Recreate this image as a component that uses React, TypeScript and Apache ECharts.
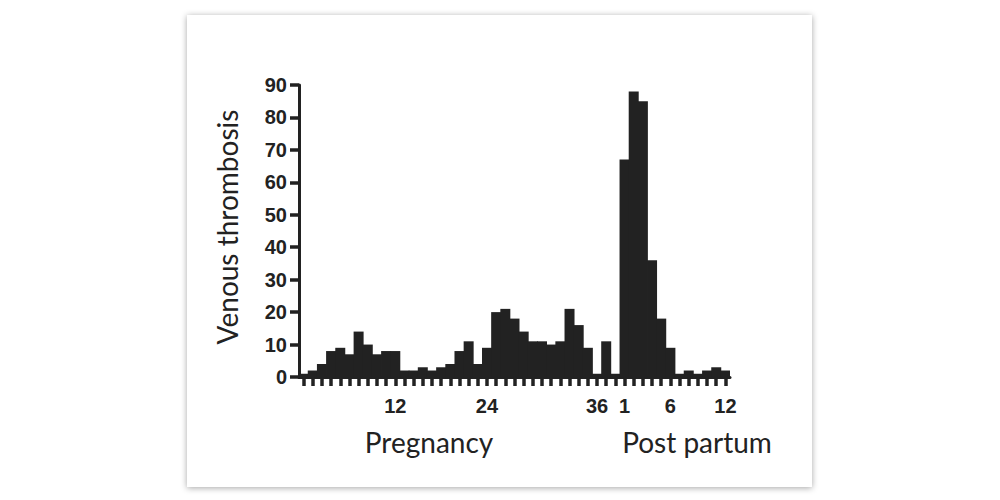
import React, { useEffect, useRef } from "react";
import * as echarts from "echarts";

// Weekly counts of venous thrombosis
const pregnancyValues = [1, 2, 4, 8, 9, 7, 14, 10, 7, 8, 8, 2, 2, 3, 2, 3, 4, 8, 11, 4, 9, 20, 21, 18, 14, 11, 11, 10, 11, 21, 16, 9, 1, 11, 1];
const postPartumValues = [67, 88, 85, 36, 18, 9, 1, 2, 1, 2, 3, 2];

const pregnancyCategories = pregnancyValues.map((_, i) => "P" + (i + 1));
const postPartumCategories = postPartumValues.map((_, i) => "PP" + (i + 1));

// Tick labels as printed under the bars
const pregnancyTickLabels = ["", "", "", "", "", "", "", "", "", "", "12", "", "", "", "", "", "", "", "", "", "24", "", "", "", "", "", "", "", "", "", "", "", "36", "", ""];
const postPartumTickLabels = ["1", "", "", "", "", "6", "", "", "", "", "", "12"];

const yTicks = { min: 0, max: 90, interval: 10 };

const yTitle = "Venous thrombosis";
const groupTitles = ["Pregnancy", "Post partum"];

export default function App() {
  const ref = useRef<HTMLDivElement>(null);

  useEffect(() => {
    if (!ref.current) return;
    const chart = echarts.init(ref.current, null, { renderer: "svg" });
    const categories = [...pregnancyCategories, ...postPartumCategories];
    const values = [...pregnancyValues, ...postPartumValues];
    const labels = [...pregnancyTickLabels, ...postPartumTickLabels];
    const ink = "#222";
    const boldNum = {
      fontFamily: "Liberation Sans, Arial, sans-serif",
      fontWeight: "bold" as const,
      fontSize: 20,
      color: ink,
    };
    chart.setOption({
      animation: false,
      backgroundColor: "#ffffff",
      grid: { left: 299, right: 270, top: 85, bottom: 123, containLabel: false },
      xAxis: {
        type: "category",
        data: categories,
        boundaryGap: true,
        axisLine: { show: true, lineStyle: { color: ink, width: 3 } },
        axisTick: {
          show: true,
          alignWithLabel: true,
          interval: 0,
          length: 9,
          lineStyle: { color: ink, width: 3.5 },
        },
        axisLabel: {
          interval: 0,
          margin: 19,
          formatter: (_v: string, i: number) => labels[i] ?? "",
          ...boldNum,
        },
        splitLine: { show: false },
      },
      yAxis: {
        type: "value",
        min: yTicks.min,
        max: yTicks.max,
        interval: yTicks.interval,
        axisLine: { show: true, lineStyle: { color: ink, width: 3 } },
        axisTick: { show: true, length: 9, lineStyle: { color: ink, width: 3.5 } },
        axisLabel: { margin: 12, ...boldNum },
        splitLine: { show: false },
      },
      series: [
        {
          type: "bar",
          data: values,
          barWidth: 10,
          barGap: "0%",
          itemStyle: { color: "#222222" },
          z: 1,
        },
      ],
      graphic: [
        {
          type: "rect",
          z: -10,
          silent: true,
          shape: { x: 187, y: 15, width: 625, height: 472 },
          style: {
            fill: "#ffffff",
            shadowBlur: 6,
            shadowColor: "rgba(0,0,0,0.35)",
            shadowOffsetX: 0,
            shadowOffsetY: 1,
          },
        },
        {
          type: "text",
          z: 100,
          x: 227,
          y: 227,
          rotation: Math.PI / 2,
          style: {
            text: yTitle,
            fontFamily: "Lato, sans-serif",
            fontSize: 28,
            fill: ink,
            align: "center",
            verticalAlign: "middle",
          },
        },
        {
          type: "text",
          z: 100,
          x: 429,
          y: 442,
          style: {
            text: groupTitles[0],
            fontFamily: "Lato, sans-serif",
            fontSize: 28,
            fill: ink,
            align: "center",
            verticalAlign: "middle",
          },
        },
        {
          type: "text",
          z: 100,
          x: 697,
          y: 442,
          style: {
            text: groupTitles[1],
            fontFamily: "Lato, sans-serif",
            fontSize: 28,
            fill: ink,
            align: "center",
            verticalAlign: "middle",
          },
        },
      ],
    });
    return () => chart.dispose();
  }, []);

  return (
    <div
      ref={ref}
      style={{ position: "fixed", left: 0, top: 0, width: 1000, height: 500, background: "#fff" }}
    />
  );
}
